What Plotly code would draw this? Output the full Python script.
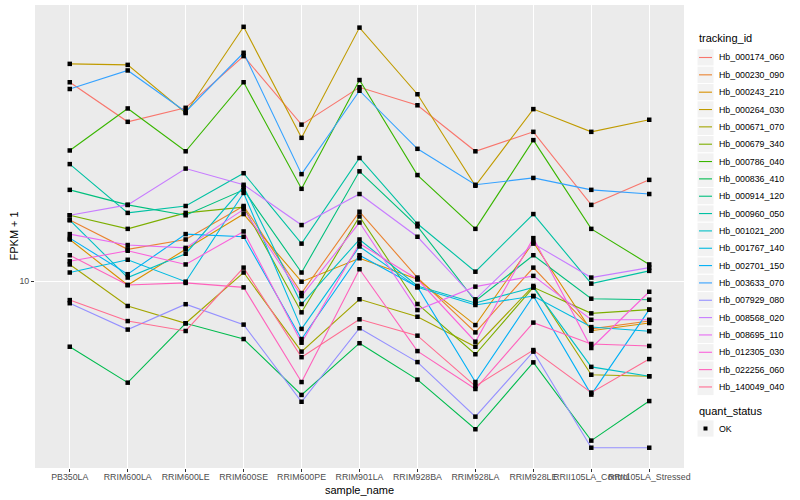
import plotly.graph_objects as go

samples = ["PB350LA", "RRIM600LA", "RRIM600LE", "RRIM600SE", "RRIM600PE", "RRIM901LA",
           "RRIM928BA", "RRIM928LA", "RRIM928LE", "RRII105LA_Control", "RRII105LA_Stressed"]

tracking_ids = ["Hb_000174_060", "Hb_000230_090", "Hb_000243_210", "Hb_000264_030",
                "Hb_000671_070", "Hb_000679_340", "Hb_000786_040", "Hb_000836_410",
                "Hb_000914_120", "Hb_000960_050", "Hb_001021_200", "Hb_001767_140",
                "Hb_002701_150", "Hb_003633_070", "Hb_007929_080", "Hb_008568_020",
                "Hb_008695_110", "Hb_012305_030", "Hb_022256_060", "Hb_140049_040"]

colors = ["#F8766D", "#EA8331", "#D89000", "#C09B00", "#A3A500", "#7CAE00", "#39B600",
          "#00BB4E", "#00BF7D", "#00C1A3", "#00BFC4", "#00BAE0", "#00B0F6", "#35A2FF",
          "#9590FF", "#C77CFF", "#E76BF3", "#FA62DB", "#FF62BC", "#FF6C91"]

# FPKM + 1 values per tracking_id, in sample order
hb_000174_060 = [31.4, 25.0, 27.1, 36.5, 24.6, 30.5, 27.5, 21.1, 23.6, 15.5, 17.9]
hb_000230_090 = [14.2, 12.0, 12.7, 15.4, 9.33, 14.9, 10.2, 7.44, 10.8, 7.59, 7.94]
hb_000243_210 = [12.7, 9.77, 12.0, 14.7, 9.96, 11.4, 10.1, 7.76, 12.5, 7.51, 7.85]
hb_000264_030 = [34.9, 34.7, 26.3, 43.2, 22.8, 43.0, 29.3, 17.3, 26.9, 23.6, 25.3]
hb_000671_070 = [11.0, 8.66, 7.84, 10.5, 6.66, 9.00, 8.14, 6.85, 9.72, 5.83, 5.78]
hb_000679_340 = [14.6, 13.5, 14.8, 15.3, 8.35, 14.5, 8.76, 6.56, 9.64, 8.30, 8.48]
hb_000786_040 = [21.2, 27.0, 21.1, 31.4, 17.0, 31.8, 18.4, 13.5, 22.5, 13.5, 11.0]
hb_000836_410 = [6.85, 5.57, 7.84, 7.16, 5.19, 6.99, 5.67, 4.26, 6.26, 3.99, 5.01]
hb_000914_120 = [16.9, 15.5, 14.6, 16.9, 10.5, 18.8, 13.7, 8.91, 11.6, 9.03, 8.98]
hb_000960_050 = [19.6, 14.8, 15.4, 18.6, 12.4, 20.3, 13.9, 10.55, 14.7, 9.85, 10.6]
hb_001021_200 = [14.2, 10.2, 11.7, 17.2, 8.76, 12.7, 9.72, 8.81, 9.64, 6.10, 5.78]
hb_001767_140 = [10.5, 11.3, 9.96, 16.6, 7.59, 12.2, 9.64, 8.71, 9.17, 7.67, 7.49]
hb_002701_150 = [12.8, 10.4, 13.1, 12.9, 7.16, 11.6, 9.66, 5.59, 9.17, 5.20, 8.48]
hb_003633_070 = [30.2, 33.6, 26.5, 37.2, 18.5, 29.9, 21.4, 17.4, 18.1, 16.9, 16.5]
hb_007929_080 = [8.80, 7.56, 8.75, 7.78, 4.99, 7.62, 6.27, 4.58, 6.66, 3.83, 3.83]
hb_008568_020 = [14.6, 15.5, 19.1, 17.4, 13.8, 16.5, 12.9, 9.00, 12.4, 10.2, 10.8]
hb_008695_110 = [13.1, 12.3, 12.1, 15.1, 9.17, 14.0, 8.46, 9.68, 10.3, 8.00, 8.00]
hb_012305_030 = [11.2, 11.9, 11.0, 13.3, 7.01, 12.4, 10.1, 7.05, 12.8, 6.80, 9.40]
hb_022256_060 = [11.6, 9.77, 9.89, 9.64, 5.59, 10.7, 6.68, 5.37, 7.87, 6.96, 6.88]
hb_140049_040 = [8.96, 7.94, 7.50, 10.8, 6.45, 8.02, 7.30, 5.46, 6.72, 5.26, 6.38]

series = [hb_000174_060, hb_000230_090, hb_000243_210, hb_000264_030, hb_000671_070,
          hb_000679_340, hb_000786_040, hb_000836_410, hb_000914_120, hb_000960_050,
          hb_001021_200, hb_001767_140, hb_002701_150, hb_003633_070, hb_007929_080,
          hb_008568_020, hb_008695_110, hb_012305_030, hb_022256_060, hb_140049_040]

FONT = "Liberation Sans, Arial, sans-serif"
W, H = 800, 500
L, R, T, B = 35, 116, 5, 32
PW, PH = W - L - R, H - T - B


def px(x):
    return (x - L) / PW


def py(y):
    return (H - B - y) / PH


fig = go.Figure()
for name, col, vals in zip(tracking_ids, colors, series):
    fig.add_trace(go.Scatter(x=samples, y=vals, mode="lines", name=name,
                             line=dict(color=col, width=1.1), showlegend=False))

all_x, all_y = [], []
for vals in series:
    all_x += samples
    all_y += vals
fig.add_trace(go.Scatter(x=all_x, y=all_y, mode="markers", name="OK", showlegend=False,
                         marker=dict(symbol="square", size=4.5, color="black")))

shapes, annots = [], []
# legend: tracking_id
annots.append(dict(x=px(697), y=py(38), xref="paper", yref="paper", text="tracking_id",
                   showarrow=False, xanchor="left", yanchor="middle",
                   font=dict(size=11, color="black", family=FONT)))
step = 17.34
for i, (name, col) in enumerate(zip(tracking_ids, colors)):
    yc = 57.5 + i * step
    shapes.append(dict(type="rect", xref="paper", yref="paper", x0=px(697), x1=px(714),
                       y0=py(yc - step / 2), y1=py(yc + step / 2), fillcolor="#F2F2F2",
                       line=dict(color="white", width=1), layer="below"))
    shapes.append(dict(type="line", xref="paper", yref="paper", x0=px(699), x1=px(712),
                       y0=py(yc), y1=py(yc), line=dict(color=col, width=1.1)))
    annots.append(dict(x=px(717), y=py(yc), xref="paper", yref="paper", text=name,
                       showarrow=False, xanchor="left", yanchor="middle",
                       font=dict(size=8.8, color="black", family=FONT)))
# legend: quant_status
annots.append(dict(x=px(697), y=py(411), xref="paper", yref="paper", text="quant_status",
                   showarrow=False, xanchor="left", yanchor="middle",
                   font=dict(size=11, color="black", family=FONT)))
shapes.append(dict(type="rect", xref="paper", yref="paper", x0=px(697), x1=px(714),
                   y0=py(428.5 - 8.6), y1=py(428.5 + 8.6), fillcolor="#F2F2F2",
                   line=dict(color="white", width=1), layer="below"))
shapes.append(dict(type="rect", xref="paper", yref="paper", x0=px(703.5), x1=px(707.5),
                   y0=py(426.5), y1=py(430.5), fillcolor="black", line=dict(width=0)))
annots.append(dict(x=px(717), y=py(428.5), xref="paper", yref="paper", text="OK",
                   showarrow=False, xanchor="left", yanchor="middle",
                   font=dict(size=8.8, color="black", family=FONT)))
# axis titles
annots.append(dict(x=px(359), y=py(489.5), xref="paper", yref="paper", text="sample_name",
                   showarrow=False, xanchor="center", yanchor="middle",
                   font=dict(size=11, color="black", family=FONT)))
annots.append(dict(x=px(13), y=py(236.5), xref="paper", yref="paper", text="FPKM + 1",
                   showarrow=False, xanchor="center", yanchor="middle", textangle=-90,
                   font=dict(size=11, color="black", family=FONT)))

fig.update_layout(
    width=W, height=H, margin=dict(l=L, r=R, t=T, b=B),
    paper_bgcolor="white", plot_bgcolor="#EBEBEB",
    font=dict(family=FONT), showlegend=False,
    shapes=shapes, annotations=annots,
)
fig.update_xaxes(type="category", categoryorder="array", categoryarray=samples,
                 range=[-0.6, 10.6], showgrid=True, gridcolor="white", gridwidth=1.1,
                 ticks="outside", ticklen=3, tickcolor="#333333", tickwidth=1,
                 ticklabelstandoff=-3,
                 tickfont=dict(size=8.8, color="#4D4D4D", family=FONT),
                 showline=False, zeroline=False, tickangle=0)
fig.update_yaxes(type="log", range=[0.5325, 1.69], tickvals=[10], ticktext=["10"],
                 showgrid=True, gridcolor="white", gridwidth=1.1,
                 ticks="outside", ticklen=3, tickcolor="#333333", tickwidth=1,
                 tickfont=dict(size=8.8, color="#4D4D4D", family=FONT),
                 showline=False, zeroline=False)

fig.write_html("out.html", config={"displayModeBar": False},
               post_script="document.body.style.margin='0';")
